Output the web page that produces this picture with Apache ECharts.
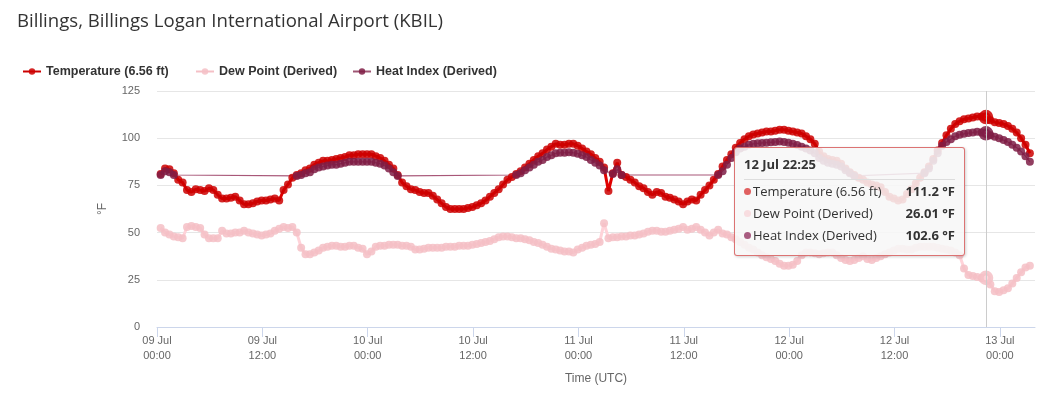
<!DOCTYPE html>
<html>
<head>
<meta charset="utf-8">
<script src="https://cdn.jsdelivr.net/npm/echarts@6/dist/echarts.min.js"></script>
<style>
  html, body { margin: 0; padding: 0; background: #fff; }
  #chart01 { width: 1052px; height: 405px; }
</style>
</head>
<body>
<div id="chart01"></div>
<script>
// 观测数据：每 30 分钟一个点，从 09 Jul 00:25 UTC 开始
var startTime = Date.UTC(2024, 6, 9, 0, 25);
var stepMinutes = 30;

var temperature = [
  81, 84, 83.5, 81.5, 78, 76.5, 72.5, 71.5, 73, 72.5,
  72, 73.5, 72.5, 70, 68, 68, 68.5, 69, 67, 65,
  65, 65.5, 66.5, 67, 67, 67.5, 68, 67, 72.5, 75.5,
  79, 80.5, 81.5, 83, 84, 86, 87, 88, 88, 88.5,
  89, 89.5, 90, 91, 91, 91.5, 91.5, 91.5, 91.5, 90.5,
  89.5, 88, 86, 84, 80.5, 76.5, 74.5, 73, 72.5, 71.5,
  71, 71, 69.5, 67.5, 65.5, 63.5, 62.5, 62.5, 62.5, 62.5,
  63, 63.5, 64.5, 65.5, 67, 69, 71, 73, 75.5, 78,
  79.5, 81, 82.5, 84.5, 86.5, 88.5, 90.5, 92, 94, 95.5,
  97, 96.5, 96.5, 97, 97, 96, 94.5, 93, 91.5, 89.5,
  87.5, 84.5, 72, 81.5, 87, 80.5, 79.5, 78, 76.5, 74.5,
  73.5, 71.5, 70, 71.5, 71, 69, 68.5, 67.5, 66.5, 65,
  66.5, 67.5, 67, 70, 72.5, 75, 78, 81, 85, 88.5,
  91.5, 95, 97.5, 99.5, 101, 102, 102.5, 103, 103.5, 103.5,
  104, 104.5, 104.5, 104, 103.5, 103, 102.5, 101, 99.5, 97,
  93, 90.5, 89, 88.5, 88, 86.5, 84, 82, 80.5, 79,
  78, 76.5, 75.5, 75, 74, 71.5, 69, 68, 67, 67.5,
  70.5, 73, 76, 79, 82, 85, 89, 93.5, 97.5, 101.5,
  105, 107.5, 109, 110, 110.5, 111, 111.5, 111.5, 111.2, 109.5,
  108.5, 108, 107.5, 106.5, 105, 103, 100, 96.5, 92
];

var dewPoint = [
  52.5, 50, 49, 48, 47.5, 47, 53, 53.5, 53, 52.5,
  49, 47, 47, 47, 51, 49.5, 49.5, 50, 50, 51,
  50, 49.5, 49, 48.5, 49, 49.5, 51, 52, 53, 52.5,
  53, 50, 42, 38.5, 38.5, 39.5, 40.5, 42, 42.5, 43,
  43, 42.5, 42.5, 43, 43, 42, 41.5, 38.5, 40, 42.5,
  43, 43, 43.5, 43.5, 43.5, 43, 43, 42.5, 41, 41,
  41.5, 42, 42, 42, 42, 42.5, 42.5, 42.5, 43, 43,
  43, 43.5, 44, 44.5, 45, 45.5, 46.5, 47.5, 48, 48,
  47.5, 47, 47, 46.5, 46, 45, 44.5, 43.5, 42.5, 41.5,
  41, 40.5, 40, 40, 39.5, 41, 42, 43, 43.5, 44,
  45, 55, 47, 47.5, 47.5, 48, 48, 48.5, 48.5, 49,
  49.5, 50.5, 51, 51, 50.5, 50.5, 51, 51.5, 52, 53,
  51.5, 52, 53, 51.5, 50, 48.5, 50, 51.5, 49.5, 49,
  47.5, 46.5, 45, 43.5, 42, 41, 39.5, 38, 37, 36,
  35, 33.5, 32.5, 32.5, 33, 35, 38, 39.5, 39.5, 39,
  38.5, 39, 39.5, 39.5, 38, 36.5, 35.5, 35, 35.5, 36.5,
  37.5, 36, 35.5, 36.5, 37.5, 38.5, 39.5, 40.5, 41.5, 41.5,
  41, 41, 42, 42.5, 42.5, 42.5, 42.5, 42, 41.5, 41,
  40.5, 39.5, 38, 31, 27.5, 27, 26.5, 26, 26.01, 22.5,
  19, 18.5, 19.5, 20.5, 23, 26, 29, 31.5, 32.5
];

// 温度低于 80 °F 时没有热指数
var heatIndex = [
  80.5, 82.5, 82, 80.5, null, null, null, null, null, null,
  null, null, null, null, null, null, null, null, null, null,
  null, null, null, null, null, null, null, null, null, null,
  null, 80, 80.5, 81.5, 82, 83.5, 84.5, 85, 85.5, 86,
  86, 86.5, 87, 87.5, 87.5, 87.5, 87.5, 87.5, 87.5, 87,
  86.5, 85.5, 84, 82, 80, null, null, null, null, null,
  null, null, null, null, null, null, null, null, null, null,
  null, null, null, null, null, null, null, null, null, null,
  null, 80.5, 81.5, 83, 84.5, 86, 87.5, 88.5, 90, 91,
  92, 92.3, 92.3, 92.5, 92.3, 91.8, 91, 90, 88.5, 87,
  85.5, 83, null, 81, 83.5, 80.5, null, null, null, null,
  null, null, null, null, null, null, null, null, null, null,
  null, null, null, null, null, null, null, 80.5, 82.5, 86,
  89.5, 92.5, 94.5, 95.5, 96.5, 97, 97.3, 97.5, 97.6, 97.8,
  98, 98.2, 98, 97.6, 97, 96.4, 95.5, 94.6, 93.5, 92,
  89.5, 88, 87, 86.5, 86, 85, 83, 81.5, 80, null,
  null, null, null, null, null, null, null, null, null, null,
  null, null, null, null, 81.5, 84, 88, 92, 96, 98,
  99.5, 101, 101.8, 102.3, 102.7, 103, 103.4, 103, 102.6, 101.5,
  100.8, 100, 99, 98, 96.5, 95, 93, 90.5, 87.5
];

var seriesNames = ['Temperature (6.56 ft)', 'Dew Point (Derived)', 'Heat Index (Derived)'];
var seriesColors = ['#cc0000', '#f5c0c6', '#7f1d45'];
var tooltipColors = ['#e06060', '#f8dde0', '#a85c80'];
var legendLefts = [17, 190, 347];

var axisStart = Date.UTC(2024, 6, 9, 0, 0);
var axisEnd = Date.UTC(2024, 6, 13, 4, 0);
var tickHours = 12;
var tooltipIndex = 188; // 12 Jul 22:25

var monthNames = ['Jan', 'Feb', 'Mar', 'Apr', 'May', 'Jun', 'Jul', 'Aug', 'Sep', 'Oct', 'Nov', 'Dec'];

function pad(n) { return n < 10 ? '0' + n : '' + n; }
function fmtDay(v) { var d = new Date(v); return pad(d.getUTCDate()) + ' ' + monthNames[d.getUTCMonth()]; }
function fmtTime(v) { var d = new Date(v); return pad(d.getUTCHours()) + ':' + pad(d.getUTCMinutes()); }

function toPairs(values) {
  return values.map(function (v, i) {
    return [startTime + i * stepMinutes * 60000, v];
  });
}

function makeSeries(idx, values, lineWidth) {
  var c = seriesColors[idx];
  return {
    name: seriesNames[idx],
    type: 'line',
    data: toPairs(values),
    connectNulls: true,
    symbol: 'circle',
    symbolSize: 8,
    showSymbol: true,
    lineStyle: { color: c, width: lineWidth, opacity: idx === 2 ? 0.75 : 1 },
    itemStyle: { color: c, opacity: 0.85 },
    emphasis: {
      scale: 1.2,
      lineStyle: { width: lineWidth },
      itemStyle: { borderColor: c, borderWidth: 5, borderOpacity: 0.2 }
    },
    animation: false
  };
}

// 三个图例分别定位，间距和原图一致
var legends = seriesNames.map(function (name, i) {
  return {
    data: [name],
    left: legendLefts[i],
    top: 60,
    itemWidth: 18,
    itemHeight: 8,
    selectedMode: false,
    textStyle: { fontSize: 12.5, fontWeight: 'bold', color: '#333' }
  };
});

var myChart01 = echarts.init(document.getElementById('chart01'));
var option = {
  animation: false,
  textStyle: { fontFamily: 'Liberation Sans, Arial, sans-serif' },
  title: {
    text: 'Billings, Billings Logan International Airport (KBIL)',
    left: 12,
    top: 7,
    textStyle: { fontSize: 18.6, fontWeight: 'normal', color: '#333', fontFamily: 'Open Sans, sans-serif' }
  },
  legend: legends,
  grid: { left: 157, right: 17, top: 91, bottom: 78 },
  tooltip: {
    trigger: 'axis',
    alwaysShowContent: true,
    position: [734, 147],
    backgroundColor: 'rgba(247,247,247,0.88)',
    borderColor: 'rgba(210,70,70,0.75)',
    borderWidth: 1,
    padding: [7, 9],
    extraCssText: 'width:211px;border-radius:3px;box-shadow:1px 1px 3px rgba(0,0,0,0.18);',
    axisPointer: { type: 'line', lineStyle: { color: '#cccccc', width: 1, type: 'solid' }, label: { show: false } },
    formatter: function (params) {
      var t = params[0].value[0];
      var html = '<div style="font:bold 13px Open Sans,sans-serif;color:#333;line-height:18px;padding-bottom:6px;border-bottom:1px solid #ddd;margin-bottom:2px">' +
        fmtDay(t) + ' ' + fmtTime(t) + '</div>';
      params.forEach(function (p) {
        html += '<div style="display:flex;justify-content:space-between;height:22px;line-height:22px;font:13px Open Sans,sans-serif;color:#333">' +
          '<span><span style="display:inline-block;width:7px;height:7px;border-radius:4px;margin-right:2px;vertical-align:1px;background:' +
          tooltipColors[p.seriesIndex] + '"></span>' + p.seriesName + '</span>' +
          '<b>' + p.value[1] + ' °F</b></div>';
      });
      return html;
    }
  },
  xAxis: {
    type: 'value',
    min: axisStart,
    max: axisEnd,
    interval: tickHours * 3600000,
    name: 'Time (UTC)',
    nameLocation: 'middle',
    nameGap: 46,
    nameTextStyle: { color: '#666', fontSize: 12 },
    axisLine: { lineStyle: { color: '#ccd6eb' } },
    axisTick: { length: 10, lineStyle: { color: '#ccd6eb' } },
    splitLine: { show: false },
    axisLabel: {
      color: '#666',
      fontSize: 11,
      lineHeight: 15,
      margin: 6,
      showMaxLabel: false,
      formatter: function (v) {
        if ((v - axisStart) % (tickHours * 3600000) !== 0) return '';
        return fmtDay(v) + '\n' + fmtTime(v);
      }
    }
  },
  yAxis: {
    type: 'value',
    min: 0,
    max: 125,
    interval: 25,
    name: '°F',
    nameLocation: 'middle',
    nameGap: 48,
    nameTextStyle: { color: '#666', fontSize: 12 },
    axisLine: { show: false },
    axisTick: { show: false },
    splitLine: { lineStyle: { color: '#e6e6e6' } },
    axisLabel: { color: '#666', fontSize: 11, margin: 17 }
  },
  series: [
    makeSeries(0, temperature, 3),
    makeSeries(1, dewPoint, 3),
    makeSeries(2, heatIndex, 1.2)
  ]
};
myChart01.setOption(option);
myChart01.dispatchAction({ type: 'showTip', seriesIndex: 0, dataIndex: tooltipIndex });
</script>
</body>
</html>
